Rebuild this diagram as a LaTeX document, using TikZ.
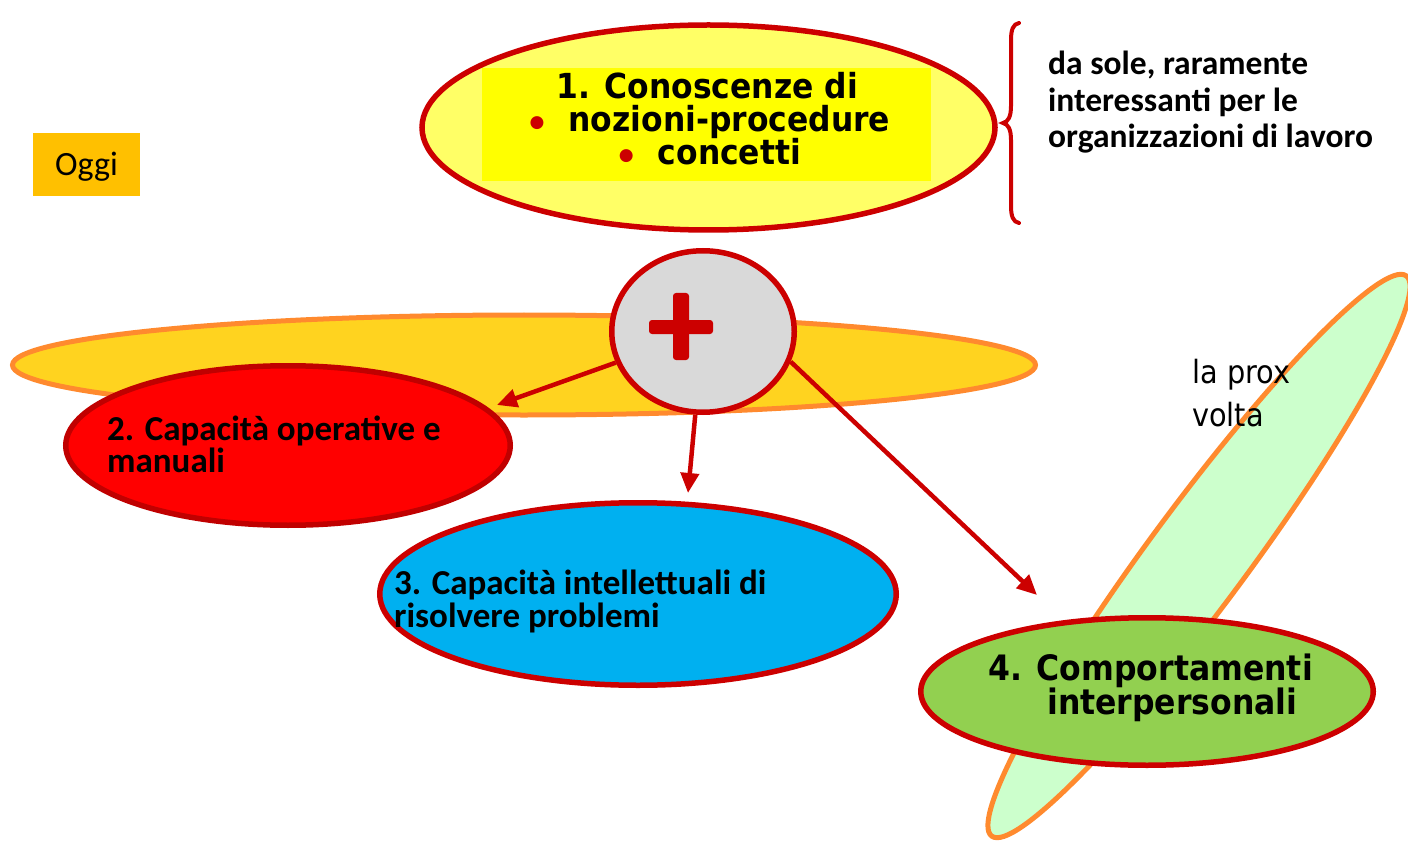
\documentclass[tikz,border=0pt]{standalone}
\usepackage{fontspec}
\setmainfont{DejaVu Sans}
\newfontfamily\calib{Carlito}
\newfontfamily\tah{DejaVu Sans}[FakeStretch=0.9]
\newfontfamily\tahtop{DejaVu Sans}[FakeStretch=0.91]
\newfontfamily\dotfont{DejaVu Sans}
\usetikzlibrary{shapes.geometric,arrows.meta}
\definecolor{bred}{HTML}{CC0000}
\definecolor{dred}{HTML}{C00000}
\definecolor{kyellow}{HTML}{FFFF66}
\definecolor{byellow}{HTML}{FFFF00}
\definecolor{oyellow}{HTML}{FFD31F}
\definecolor{oline}{HTML}{FF8A2E}
\definecolor{pgray}{HTML}{D9D9D9}
\definecolor{cblue}{HTML}{00B0F0}
\definecolor{cgreen}{HTML}{92D050}
\definecolor{lgreen}{HTML}{CCFFCC}
\definecolor{oggi}{HTML}{FFC000}
\newcommand{\rdot}{\textcolor{bred}{\raisebox{4pt}{\dotfont\mdseries\fontsize{17}{17}\selectfont ●}}}
\begin{document}
\begin{tikzpicture}[x=1pt,y=-1pt,
  ell/.style={ellipse, draw=bred, line width=5.5pt, inner sep=0pt},
  oell/.style={ellipse, draw=oline, line width=5pt, inner sep=0pt},
  arr/.style={draw=bred, line width=4.5pt, -{Triangle[length=20pt,width=18pt]}},
  toptxt/.style={anchor=base, inner sep=0pt, text depth=0pt, font=\tahtop\bfseries\fontsize{34.5}{33}\selectfont},
  captxt/.style={anchor=base west, inner sep=0pt, font=\calib\bfseries\fontsize{35}{32}\selectfont},
  sidetxt/.style={anchor=base west, inner sep=0pt, font=\calib\bfseries\fontsize{33.5}{37}\selectfont},
  comptxt/.style={anchor=base west, inner sep=0pt, text depth=0pt, font=\tah\bfseries\fontsize{35}{30}\selectfont},
  proxtxt/.style={anchor=base west, inner sep=0pt, font=\tah\fontsize{32}{40}\selectfont}
]
\useasboundingbox (0,0) rectangle (1408,842);

% background ellipses
\node[oell, fill=oyellow, minimum width=1023pt, minimum height=100pt] (back) at (524,365) {};
\node[oell, fill=lgreen, minimum width=697pt, minimum height=99pt, rotate=53.5] (prox) at (1199,556) {};

% Oggi
\node[fill=oggi, minimum width=107pt, minimum height=63pt, inner sep=0pt,
      text height=23pt, text depth=0pt, font=\calib\fontsize{34}{40}\selectfont] (oggi) at (86.5,164.5) {Oggi};

% 1. Conoscenze
\node[ell, fill=kyellow, minimum width=573pt, minimum height=205pt] (k1) at (708.5,127.5) {};
\node[fill=byellow, minimum width=449pt, minimum height=113pt, inner sep=0pt] (k1box) at (706.5,124.5) {};
\node[toptxt] (k1a) at (707,99) {1. Conoscenze di};
\node[toptxt] (k1b) at (710,132) {\rdot\hspace{24pt}nozioni-procedure};
\node[toptxt] (k1c) at (710,165) {\rdot\hspace{24pt}concetti};

% brace
\draw[bred, line width=4pt, line cap=round]
  (1019,23) .. controls (1013,24) and (1011,30) .. (1011,40) -- (1011,106)
  .. controls (1011,117) and (1008,122) .. (1003,123)
  .. controls (1008,124) and (1011,129) .. (1011,140) -- (1011,206)
  .. controls (1011,216) and (1013,222) .. (1019,223);
\node[sidetxt] (s1) at (1048,75) {da sole, raramente};
\node[sidetxt] (s2) at (1048,112) {interessanti per le};
\node[sidetxt] (s3) at (1048,148) {organizzazioni di lavoro};

% plus
\node[ell, fill=pgray, minimum width=182.5pt, minimum height=161.5pt] (plus) at (703,331.5) {};
\fill[bred, rounded corners=3pt] (673,293) rectangle (689,360);
\fill[bred, rounded corners=3pt] (649,320) rectangle (713,334);

% 2
\node[ell, draw=dred, fill=red, minimum width=444.5pt, minimum height=159.5pt] (c2) at (288,445.5) {};
\node[captxt] (c2a) at (107,440) {2. Capacità operative e};
\node[captxt] (c2b) at (107,472) {manuali};

% 3
\node[ell, fill=cblue, minimum width=516.5pt, minimum height=182.5pt] (c3) at (638,594) {};
\node[captxt] (c3a) at (394,594) {3. Capacità intellettuali di};
\node[captxt] (c3b) at (394,627) {risolvere problemi};

% 4
\node[ell, fill=cgreen, minimum width=452.5pt, minimum height=147.5pt] (c4) at (1147,691.5) {};
\node[comptxt] (c4a) at (988,680) {4. Comportamenti};
\node[comptxt] (c4b) at (1047,714) {interpersonali};

% la prox volta
\node[proxtxt] (p1) at (1192,383) {la prox};
\node[proxtxt] (p2) at (1192,426) {volta};

% arrows
\coordinate (t2) at (497,405);
\coordinate (t3) at (688,493);
\coordinate (t4) at (1037,595);
\draw[arr] (plus) -- (t2);
\draw[arr] (plus) -- (t3);
\draw[arr] (plus.-19) -- (t4);
\end{tikzpicture}
\end{document}
